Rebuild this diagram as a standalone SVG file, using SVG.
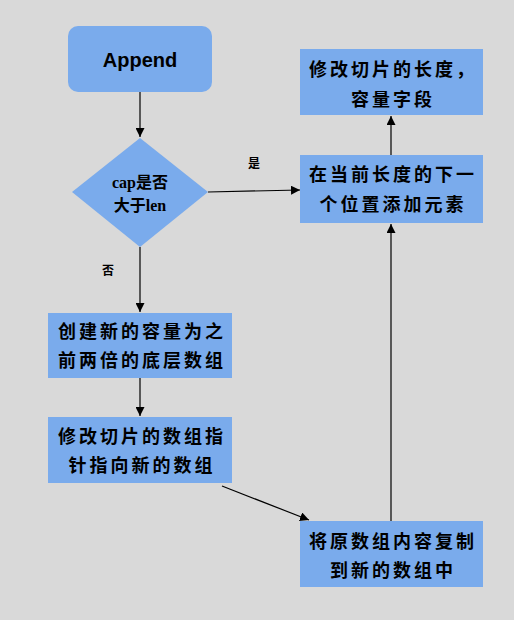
<svg xmlns="http://www.w3.org/2000/svg" width="514" height="620" viewBox="0 0 514 620">
<defs>
<marker id="ah" viewBox="0 0 10 10" refX="10" refY="5" markerWidth="9" markerHeight="9" markerUnits="userSpaceOnUse" orient="auto">
<path d="M0,0 L10,5 L0,10 z" fill="#000"/>
</marker>
<style>
.n{fill:#7aabec;}
.t{font-family:"Noto Sans CJK SC","Liberation Sans",sans-serif;font-size:18px;font-weight:bold;fill:#000;text-anchor:middle;letter-spacing:3px;}
.d{font-family:"Liberation Serif","Noto Sans CJK SC",serif;font-size:16px;font-weight:bold;fill:#000;text-anchor:middle;}
.l{font-family:"Noto Sans CJK SC",sans-serif;font-size:12px;font-weight:bold;fill:#000;text-anchor:middle;}
.c{stroke:#000;stroke-width:1.2;fill:none;marker-end:url(#ah);}
</style>
</defs>
<rect width="514" height="620" fill="#d9d9d9"/>
<g id="connectors">
<line class="c" x1="140" y1="92" x2="140" y2="137"/>
<line class="c" x1="208" y1="192" x2="300" y2="190"/>
<line class="c" x1="140" y1="247" x2="140" y2="312"/>
<line class="c" x1="140" y1="378" x2="140" y2="416"/>
<line class="c" x1="222" y1="486" x2="309" y2="520"/>
<line class="c" x1="391" y1="521" x2="391" y2="224"/>
<line class="c" x1="391" y1="155" x2="391" y2="116"/>
<text class="l" x="254" y="168">是</text>
<text class="l" x="108" y="275">否</text>
</g>
<g id="append">
<rect class="n" x="68" y="26" width="144" height="66" rx="10"/>
<text x="140" y="67" font-family="'Liberation Sans',sans-serif" font-size="20" font-weight="bold" text-anchor="middle">Append</text>
</g>
<g id="decision">
<polygon class="n" points="140,138 208,192 140,247 72,192"/>
<text class="d" x="140" y="188">cap是否</text>
<text class="d" x="140" y="211">大于len</text>
</g>
<g id="update-len">
<rect class="n" x="300" y="49" width="183" height="66"/>
<text class="t" x="393" y="76">修改切片的长度，</text>
<text class="t" x="393" y="106">容量字段</text>
</g>
<g id="add-element">
<rect class="n" x="300" y="155" width="183" height="68"/>
<text class="t" x="393" y="181">在当前长度的下一</text>
<text class="t" x="393" y="211">个位置添加元素</text>
</g>
<g id="new-array">
<rect class="n" x="48" y="313" width="184" height="65"/>
<text class="t" x="142" y="338">创建新的容量为之</text>
<text class="t" x="142" y="367">前两倍的底层数组</text>
</g>
<g id="point-new">
<rect class="n" x="48" y="417" width="184" height="66"/>
<text class="t" x="142" y="443">修改切片的数组指</text>
<text class="t" x="142" y="472">针指向新的数组</text>
</g>
<g id="copy">
<rect class="n" x="300" y="521" width="183" height="66"/>
<text class="t" x="393" y="548">将原数组内容复制</text>
<text class="t" x="393" y="577">到新的数组中</text>
</g>
</svg>
